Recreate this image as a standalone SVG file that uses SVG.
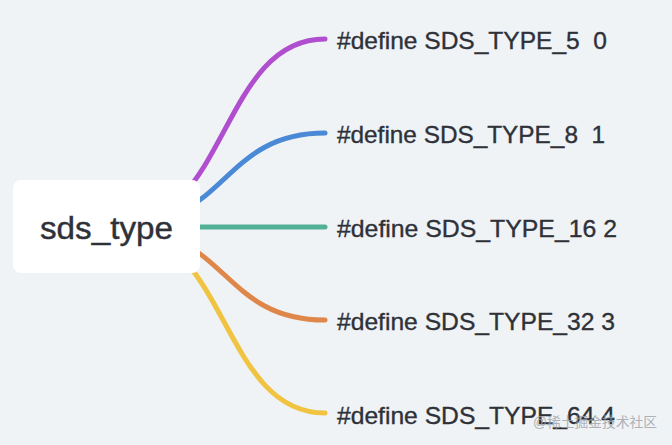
<svg xmlns="http://www.w3.org/2000/svg" width="672" height="445" viewBox="0 0 672 445">
<style>
.br{fill:none;stroke-width:5;stroke-linecap:round}
.lbl{font-family:"Liberation Sans",Arial,sans-serif;font-size:24px;fill:#2e3138;stroke:#2e3138;stroke-width:0.35}
.root{font-family:"Liberation Sans",Arial,sans-serif;font-size:31px;fill:#2e3138;stroke:#2e3138;stroke-width:0.4}
.wm{font-family:"Liberation Sans","Noto Sans CJK SC",sans-serif;font-size:14px;fill:#9ea2a8;opacity:0.8}
</style>
<rect width="672" height="445" fill="#eff3f6"/>
<g id="connectors">
<path class="br" stroke="#b04ecf" d="M115 227 C228 227 220 39 325 39"/>
<path class="br" stroke="#4a89d6" d="M115 227 C228 227 220 133 325 133"/>
<path class="br" stroke="#52b095" d="M125 227 L325 227"/>
<path class="br" stroke="#df874a" d="M115 227 C228 227 220 320 325 320"/>
<path class="br" stroke="#f0c340" d="M115 227 C228 227 220 413 325 413"/>
</g>
<g id="root">
<rect x="13" y="180" width="187" height="93" rx="8" fill="#ffffff"/>
<text class="root" x="40" y="239" textLength="133" lengthAdjust="spacingAndGlyphs">sds_type</text>
</g>
<g id="n5"><text class="lbl" x="337" y="49" textLength="270" lengthAdjust="spacingAndGlyphs" xml:space="preserve">#define SDS_TYPE_5  0</text></g>
<g id="n8"><text class="lbl" x="337" y="143" textLength="268" lengthAdjust="spacingAndGlyphs" xml:space="preserve">#define SDS_TYPE_8  1</text></g>
<g id="n16"><text class="lbl" x="337" y="237" textLength="280" lengthAdjust="spacingAndGlyphs">#define SDS_TYPE_16 2</text></g>
<g id="n32"><text class="lbl" x="337" y="330" textLength="278" lengthAdjust="spacingAndGlyphs">#define SDS_TYPE_32 3</text></g>
<g id="n64"><text class="lbl" x="337" y="424" textLength="278" lengthAdjust="spacingAndGlyphs">#define SDS_TYPE_64 4</text></g>
<text class="wm" x="533" y="427" textLength="124" lengthAdjust="spacingAndGlyphs">@稀土掘金技术社区</text>
</svg>
